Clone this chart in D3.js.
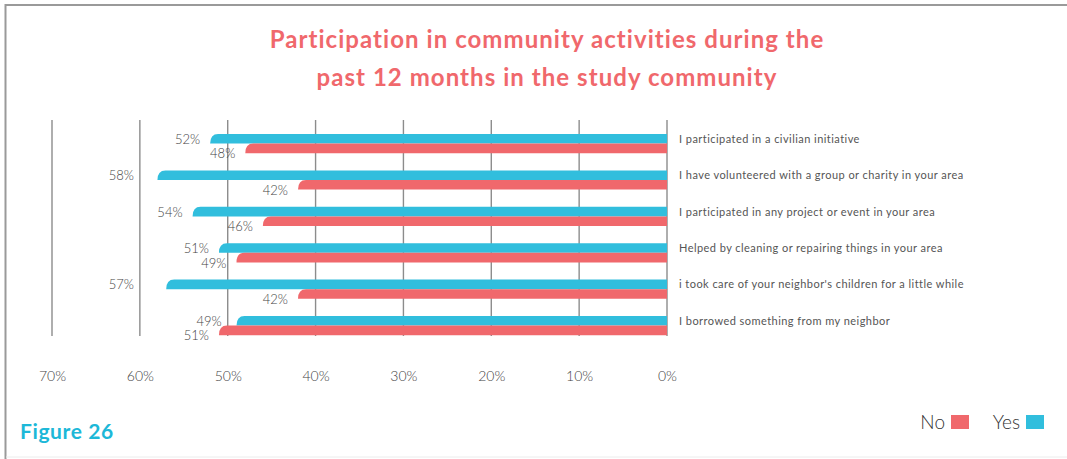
<!DOCTYPE html>
<html>
<head>
<meta charset="utf-8">
<script src="https://cdn.jsdelivr.net/npm/d3@7"></script>
<style>
  html, body { margin: 0; padding: 0; background: #fff; }
  svg { display: block; font-family: Lato, "Open Sans", sans-serif; }
</style>
</head>
<body>
<svg id="chart" width="1067" height="459"></svg>
<script>
// Survey items, top to bottom
const categories = [
  "I participated in a civilian initiative",
  "I have volunteered with a group or charity in your area",
  "I participated in any project or event in your area",
  "Helped by cleaning or repairing things in your area",
  "i took care of your neighbor's children for a little while",
  "I borrowed something from my neighbor"
];
// Share of respondents (%)
const yesValues = [52, 58, 54, 51, 57, 49];
const noValues  = [48, 42, 46, 49, 42, 51];
// Axis ticks (%)
const tickValues = [70, 60, 50, 40, 30, 20, 10, 0];

const titleLines = [
  "Participation in community activities during the",
  "past 12 months in the study community"
];

const BLUE = "#31bedd", RED = "#f0686c", GRID = "#8c8c8c", TEXT = "#555";

const svg = d3.select("#chart");

// Frame
svg.append("line").attr("x1", 5).attr("x2", 1067).attr("y1", 5).attr("y2", 5)
  .attr("stroke", "#9a9a9a").attr("stroke-width", 2);
svg.append("line").attr("x1", 5.5).attr("x2", 5.5).attr("y1", 4).attr("y2", 459)
  .attr("stroke", "#9a9a9a").attr("stroke-width", 2);
svg.append("line").attr("x1", 6).attr("x2", 1067).attr("y1", 457).attr("y2", 457)
  .attr("stroke", "#ececec").attr("stroke-width", 1);

// Title
svg.append("g").selectAll("text").data(titleLines).join("text")
  .attr("x", 547).attr("y", (d, i) => 48 + i * 38)
  .attr("text-anchor", "middle")
  .attr("fill", RED).attr("font-weight", 700).attr("font-size", 24)
  .attr("letter-spacing", 1.05)
  .text(d => d);

// Scales: values grow to the left
const x = d3.scaleLinear().domain([0, 70]).range([667, 52]);
const y = d3.scalePoint().domain(categories).range([134, 316]);
const barH = 9.6;

// Gridlines
svg.append("g").selectAll("line").data(tickValues).join("line")
  .attr("x1", d => x(d)).attr("x2", d => x(d))
  .attr("y1", 120).attr("y2", 336)
  .attr("stroke", GRID).attr("stroke-width", 1.4);

// Tick labels
const xAxis = d3.axisBottom(x).tickValues(tickValues).tickFormat(d => d + "%").tickSize(0);
const axisG = svg.append("g").attr("transform", "translate(0,368)").call(xAxis);
axisG.select(".domain").remove();
axisG.selectAll("text").attr("font-size", 14).attr("fill", "#444")
  .attr("font-weight", 300).attr("font-family", "Lato, sans-serif");

// Bar with a rounded top-left end
function tabBar(x0, x1, top, h) {
  const rx = Math.min(8, x1 - x0), ry = h;
  return `M${x1},${top}H${x0 + rx}Q${x0},${top} ${x0},${top + ry}V${top + h}H${x1}Z`;
}

const rows = categories.map((c, i) => ({ cat: c, yes: yesValues[i], no: noValues[i] }));

const g = svg.append("g");
g.selectAll("path.yes").data(rows).join("path").attr("class", "yes")
  .attr("d", d => tabBar(x(d.yes), x(0), y(d.cat), barH))
  .attr("fill", BLUE);
g.selectAll("path.no").data(rows).join("path").attr("class", "no")
  .attr("d", d => tabBar(x(d.no), x(0), y(d.cat) + barH, barH))
  .attr("fill", RED);

// Value labels; "Yes" labels step clear of gridlines
const gap = 10;
function yesLabelX(v, w) {
  let end = x(v) - gap;
  for (const t of tickValues) {
    const gx = x(t);
    if (gx >= end - w - 3 && gx <= end + 3) end = gx - 6;
  }
  return end;
}
const yesLabels = g.selectAll("text.yesv").data(rows).join("text").attr("class", "yesv")
  .attr("text-anchor", "end").attr("font-size", 13).attr("font-weight", 300).attr("fill", "#444")
  .attr("y", d => y(d.cat) + barH / 2 + 5)
  .text(d => d.yes + "%");
yesLabels.attr("x", function(d) { return yesLabelX(d.yes, this.getComputedTextLength()); });

g.selectAll("text.nov").data(rows).join("text").attr("class", "nov")
  .attr("text-anchor", "end").attr("font-size", 13).attr("font-weight", 300).attr("fill", "#444")
  .attr("x", d => x(d.no) - gap)
  .attr("y", d => y(d.cat) + barH * 1.5 + 10)
  .text(d => d.no + "%");

// Category labels
g.selectAll("text.cat").data(rows).join("text").attr("class", "cat")
  .attr("x", 679).attr("y", d => y(d.cat) + barH / 2 + 4)
  .attr("font-size", 11).attr("fill", TEXT).attr("letter-spacing", 0.45)
  .text(d => d.cat);

// Figure caption
svg.append("text").attr("x", 20).attr("y", 439)
  .attr("font-size", 21).attr("font-weight", 700).attr("fill", "#1db8d8")
  .attr("letter-spacing", 0.6)
  .text("Figure 26");

// Legend
const legend = [
  { label: "No", color: RED, tx: 945, rx: 951 },
  { label: "Yes", color: BLUE, tx: 1020, rx: 1026 }
];
const lg = svg.append("g");
lg.selectAll("text").data(legend).join("text")
  .attr("x", d => d.tx).attr("y", 429).attr("text-anchor", "end")
  .attr("font-size", 19).attr("font-weight", 300).attr("fill", "#333").text(d => d.label);
lg.selectAll("rect").data(legend).join("rect")
  .attr("x", d => d.rx).attr("y", 415).attr("width", 18).attr("height", 14)
  .attr("fill", d => d.color);
</script>
</body>
</html>
